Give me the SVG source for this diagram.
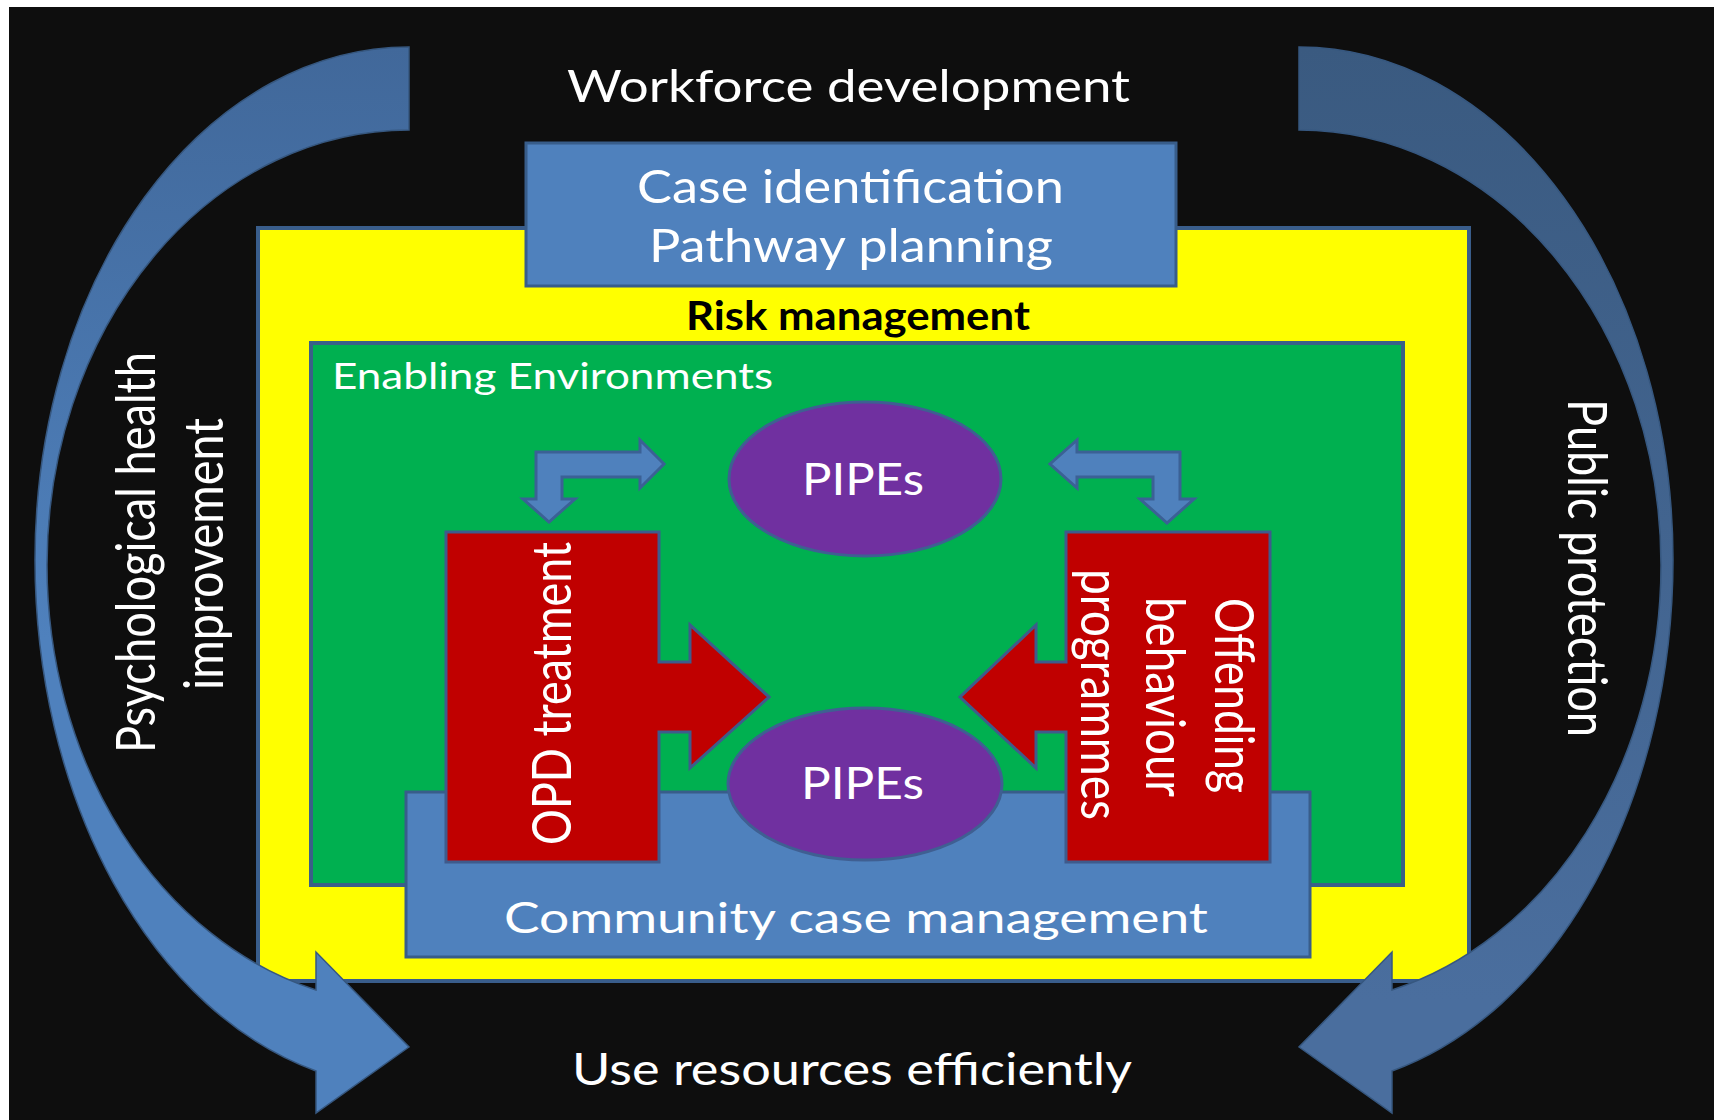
<svg xmlns="http://www.w3.org/2000/svg" xmlns:xlink="http://www.w3.org/1999/xlink" width="1723" height="1120" viewBox="0 0 1723 1120">
  <defs>
    <style>
      .lbl { font-family: Lato, "Open Sans", "Liberation Sans", sans-serif; fill: #ffffff; }
      .blue { fill: #4f81bd; stroke: #385d8a; stroke-width: 3; }
      .red { fill: #c00000; stroke: #3f5b8c; stroke-width: 3; stroke-linejoin: miter; }
      .pipes { fill: #7030a0; stroke: #3f5f92; stroke-width: 3; }
      .bent { fill: #4f81bd; stroke: #3b6195; stroke-width: 3; stroke-linejoin: miter; }
      .arc { stroke: #36577f; stroke-width: 1.5; }
    </style>
    <linearGradient id="arcLeftFill" gradientUnits="userSpaceOnUse" x1="0" y1="47" x2="0" y2="640">
      <stop offset="0" stop-color="#41689a"/>
      <stop offset="1" stop-color="#4f81bd"/>
    </linearGradient>
    <linearGradient id="arcRightFill" gradientUnits="userSpaceOnUse" x1="0" y1="47" x2="0" y2="1000">
      <stop offset="0" stop-color="#3a5a80"/>
      <stop offset="1" stop-color="#4a6e9e"/>
    </linearGradient>
    <!-- crescent band: thick at the ends, thin at the side, ending in an arrowhead at the bottom -->
    <path id="curvedArrow" d="M409,47 A374,513 0 0 0 35,560 A374,528 0 0 0 316,1071 L316,1113 L409,1047 L316,952 L316,990 A362,440 0 0 1 47,565 A362,435 0 0 1 409,130 Z"/>
  </defs>

  <!-- page -->
  <rect x="0" y="0" width="1723" height="1120" fill="#ffffff"/>
  <rect x="9" y="7" width="1705" height="1113" fill="#0e0e0e"/>

  <g id="risk-management">
    <rect x="258" y="228" width="1211" height="753" fill="#ffff00" stroke="#395d8b" stroke-width="4"/>
    <text class="lbl" x="686" y="330" font-size="41" font-weight="bold" style="fill:#000000" textLength="344" lengthAdjust="spacingAndGlyphs">Risk management</text>
  </g>

  <g id="case-identification">
    <rect class="blue" x="526" y="143" width="650" height="143"/>
    <text class="lbl" x="637" y="203" font-size="47" textLength="427" lengthAdjust="spacingAndGlyphs">Case identification</text>
    <text class="lbl" x="649" y="262" font-size="47" textLength="404" lengthAdjust="spacingAndGlyphs">Pathway planning</text>
  </g>

  <g id="enabling-environments">
    <rect x="311" y="343" width="1092" height="542" fill="#00b050" stroke="#3a6088" stroke-width="4"/>
    <text class="lbl" x="332" y="389" font-size="37" textLength="441" lengthAdjust="spacingAndGlyphs">Enabling Environments</text>
  </g>

  <g id="community-case-management">
    <rect class="blue" x="406" y="792" width="904" height="165"/>
    <text class="lbl" x="504" y="933" font-size="42" textLength="704" lengthAdjust="spacingAndGlyphs">Community case management</text>
  </g>

  <g id="opd-treatment">
    <path class="red" d="M446,532 H659 V662 H690 V625 L769,697 L690,768 V732 H659 V862 H446 Z"/>
    <text class="lbl" transform="translate(571,693.5) scale(1.27,1) rotate(-90)" x="0" y="0" font-size="43" text-anchor="middle" textLength="303" lengthAdjust="spacingAndGlyphs">OPD treatment</text>
  </g>

  <g id="offending-behaviour-programmes">
    <path class="red" d="M1270,532 H1066 V662 H1036 V625 L960,697 L1036,768 V732 H1066 V862 H1270 Z"/>
    <text class="lbl" transform="translate(1215,695.5) scale(1.27,1) rotate(90)" x="0" y="0" font-size="43" text-anchor="middle" textLength="195" lengthAdjust="spacingAndGlyphs">Offending</text>
    <text class="lbl" transform="translate(1146,697) scale(1.27,1) rotate(90)" x="0" y="0" font-size="43" text-anchor="middle" textLength="200" lengthAdjust="spacingAndGlyphs">behaviour</text>
    <text class="lbl" transform="translate(1081,694.5) scale(1.27,1) rotate(90)" x="0" y="0" font-size="43" text-anchor="middle" textLength="251" lengthAdjust="spacingAndGlyphs">programmes</text>
  </g>

  <g id="pipes-upper">
    <ellipse class="pipes" cx="865" cy="479" rx="136" ry="77"/>
    <text class="lbl" x="802" y="495" font-size="44" textLength="122" lengthAdjust="spacingAndGlyphs">PIPEs</text>
  </g>

  <g id="pipes-lower">
    <ellipse class="pipes" cx="865" cy="784" rx="137" ry="76"/>
    <text class="lbl" x="801" y="799" font-size="44" textLength="123" lengthAdjust="spacingAndGlyphs">PIPEs</text>
  </g>

  <g id="workforce-development">
    <text class="lbl" x="567" y="102" font-size="44" textLength="563" lengthAdjust="spacingAndGlyphs">Workforce development</text>
  </g>

  <g id="use-resources-efficiently">
    <text class="lbl" x="572" y="1085" font-size="44" textLength="560" lengthAdjust="spacingAndGlyphs">Use resources efficiently</text>
  </g>

  <g id="psychological-health-improvement">
    <text class="lbl" transform="translate(155,552.5) scale(1.27,1) rotate(-90)" x="0" y="0" font-size="43" text-anchor="middle" textLength="401" lengthAdjust="spacingAndGlyphs">Psychological health</text>
    <text class="lbl" transform="translate(223,554) scale(1.27,1) rotate(-90)" x="0" y="0" font-size="43" text-anchor="middle" textLength="272" lengthAdjust="spacingAndGlyphs">improvement</text>
  </g>

  <g id="public-protection">
    <text class="lbl" transform="translate(1568,568) scale(1.27,1) rotate(90)" x="0" y="0" font-size="43" text-anchor="middle" textLength="338" lengthAdjust="spacingAndGlyphs">Public protection</text>
  </g>

  <g id="connectors">
    <!-- outer cycle arrows -->
    <use xlink:href="#curvedArrow" class="arc" fill="url(#arcLeftFill)"/>
    <use xlink:href="#curvedArrow" class="arc" fill="url(#arcRightFill)" transform="translate(1708,0) scale(-1,1)"/>
    <!-- two-way bent arrows between the upper PIPEs and the treatment boxes -->
    <path class="bent" d="M536,452 H640 V440 L664,464 L640,488 V477 H562 V499 H575 L549,522 L523,499 H536 Z"/>
    <path class="bent" d="M1180,452 H1077 V440 L1050,464 L1077,488 V477 H1153 V499 H1140 L1167,523 L1194,499 H1180 Z"/>
  </g>
</svg>
